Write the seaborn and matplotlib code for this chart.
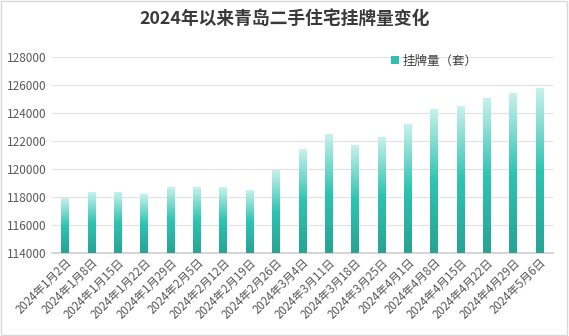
import numpy as np
import pandas as pd
import matplotlib
matplotlib.use("Agg")
import matplotlib.pyplot as plt
from matplotlib.colors import LinearSegmentedColormap
from matplotlib.patches import Rectangle
import seaborn as sns

dates = ["2024年1月2日", "2024年1月8日", "2024年1月15日", "2024年1月22日", "2024年1月29日",
         "2024年2月5日", "2024年2月12日", "2024年2月19日", "2024年2月26日", "2024年3月4日",
         "2024年3月11日", "2024年3月18日", "2024年3月25日", "2024年4月1日", "2024年4月8日",
         "2024年4月15日", "2024年4月22日", "2024年4月29日", "2024年5月6日"]
listings = [117900, 118300, 118300, 118150, 118650, 118650, 118650, 118500, 119860, 121370,
            122470, 121700, 122280, 123200, 124250, 124500, 125050, 125400, 125750]
yticks = [114000, 116000, 118000, 120000, 122000, 124000, 126000, 128000]
title = "2024年以来青岛二手住宅挂牌量变化"
series_name = "挂牌量（套）"

sns.set_theme(style="white")
plt.rcParams['font.family'] = ['Noto Sans CJK SC', 'DejaVu Sans']

df = pd.DataFrame({"date": dates, "value": listings})

fig = plt.figure(figsize=(5.69, 3.36), dpi=100)
ax = fig.add_axes([52/569, 1-253/336, (553-52)/569, (253-57)/336])

sns.barplot(data=df, x="date", y="value", ax=ax, color="#2ebfae", width=0.3,
            saturation=1, label=series_name)

cmap = LinearSegmentedColormap.from_list("g", ["#28a394", "#2ec4b2", "#c8f1ec"])
grad = np.linspace(0, 1, 256).reshape(-1, 1)
for p in list(ax.patches):
    x0, y0 = p.get_x(), p.get_y()
    w, h = p.get_width(), p.get_height()
    ax.imshow(grad, cmap=cmap, aspect="auto", origin="lower",
              extent=[x0, x0 + w, 114000, y0 + h], zorder=3)
    p.set_alpha(0)
ax.set_aspect("auto")
ax.set_xlim(-0.5, len(dates) - 0.5)
ax.set_ylim(114000, 128000)
ax.set_yticks(yticks)
ax.set_yticklabels([str(v) for v in yticks], fontsize=8.5, color="#595959")

ax.yaxis.grid(True, color="#e3e3e3", linewidth=0.9)
ax.set_axisbelow(True)
for s in ["top", "right", "left"]:
    ax.spines[s].set_visible(False)
ax.spines["bottom"].set_color("#d0d0d0")
ax.tick_params(axis="y", length=0, pad=4)
ax.set_xlabel("")
ax.set_ylabel("")

ax.set_xticks(range(len(dates)))
ax.set_xticklabels(dates, rotation=45, ha="right", rotation_mode="anchor",
                   fontsize=8.3, color="#595959")
ax.tick_params(axis="x", length=0, pad=2)
ax.set_xticks(np.arange(-0.5, len(dates), 1), minor=True)
ax.tick_params(axis="x", which="minor", length=4, color="#d0d0d0", width=0.8)

handle = Rectangle((0, 0), 1, 1, facecolor="#2ebfae", edgecolor="none")
ax.legend([handle], [series_name], loc="upper left", bbox_to_anchor=(0.655, 1.07),
          frameon=False, fontsize=9, handlelength=0.6, handleheight=0.6,
          handletextpad=0.3, labelcolor="#404040")

fig.text(0.5, 1 - 19/336, title, ha="center", va="center", fontsize=12.8,
         fontweight="bold", color="#3a3a3a")

border = Rectangle((0.002, 0.003), 0.995, 0.994, transform=fig.transFigure,
                   fill=False, edgecolor="#d9d9d9", linewidth=1)
fig.patches.append(border)

fig.savefig("out.png", dpi=100)
